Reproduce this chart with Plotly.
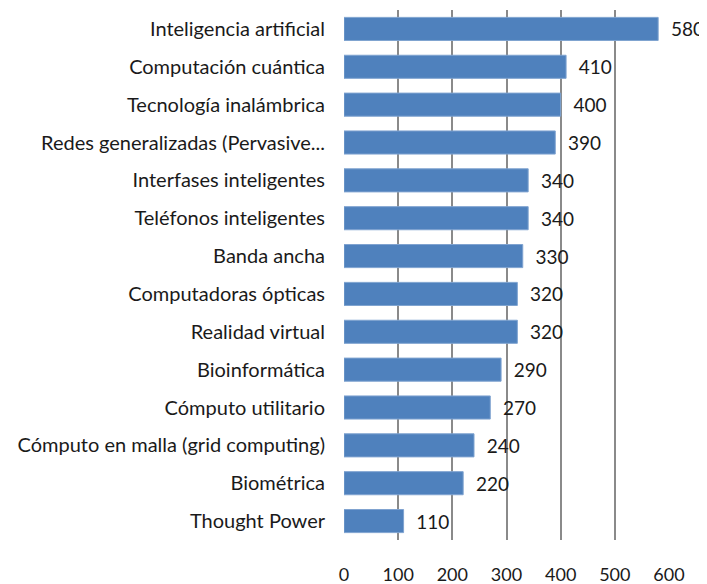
import plotly.graph_objects as go

categories = [
    "Inteligencia artificial",
    "Computación cuántica",
    "Tecnología inalámbrica",
    "Redes generalizadas (Pervasive...",
    "Interfases inteligentes",
    "Teléfonos inteligentes",
    "Banda ancha",
    "Computadoras ópticas",
    "Realidad virtual",
    "Bioinformática",
    "Cómputo utilitario",
    "Cómputo en malla (grid computing)",
    "Biométrica",
    "Thought Power",
]
values = [580, 410, 400, 390, 340, 340, 330, 320, 320, 290, 270, 240, 220, 110]
x_ticks = [0, 100, 200, 300, 400, 500, 600]

FONT = "Lato"
FS = 20

fig = go.Figure(
    go.Bar(
        y=categories,
        x=values,
        orientation="h",
        marker=dict(color="#4F81BD", line=dict(color="#7FA3D0", width=1)),
        text=values,
        texttemplate="  %{x}",
        textposition="outside",
        cliponaxis=False,
        textfont=dict(family=FONT, size=19, color="#1a1a1a"),
    )
)

# page body has an 8px default margin, so the figure is sized to fit the window
fig.update_layout(
    width=699,
    height=576,
    margin=dict(l=336, r=38, t=2, b=44, autoexpand=False),
    paper_bgcolor="white",
    plot_bgcolor="white",
    bargap=0.39,
    showlegend=False,
    font=dict(family=FONT, size=FS, color="#1a1a1a"),
)

fig.update_xaxes(
    range=[0, 600],
    tickvals=x_ticks,
    ticktext=[str(t) for t in x_ticks],
    showgrid=True,
    gridcolor="#8a8a8a",
    gridwidth=2,
    zeroline=False,
    showline=False,
    ticks="outside",
    ticklen=18,
    tickcolor="rgba(0,0,0,0)",
    automargin=False,
    tickfont=dict(family=FONT, size=18, color="#1a1a1a"),
)

fig.update_yaxes(
    autorange="reversed",
    showgrid=False,
    zeroline=False,
    showline=False,
    ticks="outside",
    ticklen=14,
    tickcolor="rgba(0,0,0,0)",
    automargin=False,
    tickfont=dict(family=FONT, size=FS, color="#1a1a1a"),
)

fig.write_html("out.html")
